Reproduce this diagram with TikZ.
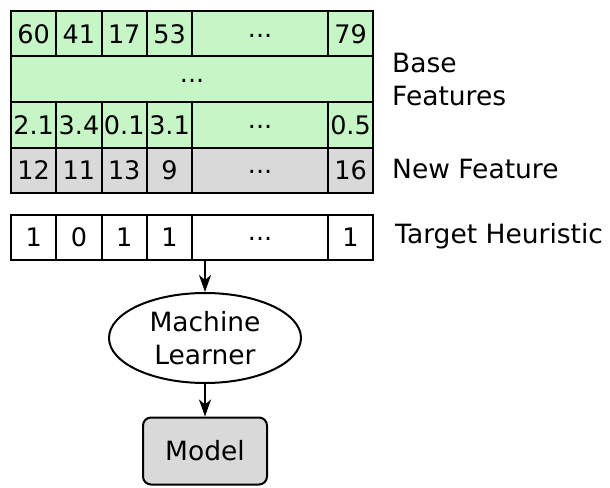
\documentclass[tikz,border=0pt]{standalone}
\usepackage{fontspec}
\setmainfont{DejaVu Sans}
\usetikzlibrary{arrows.meta,shapes.geometric}
\definecolor{featgreen}{HTML}{C6F5C6}
\definecolor{newgray}{HTML}{D9D9D9}
\newcommand{\celldots}{\raisebox{0.22em}{...}}

\begin{document}
\begin{tikzpicture}[x=1pt,y=-1pt,
    every node/.style={font=\fontsize{26.5}{33}\selectfont,inner sep=0pt},
    cell/.style={draw,line width=2pt,minimum width=45.3pt,minimum height=45.5pt,anchor=north west,
        font=\fontsize{25.5}{30}\selectfont,text height=18.6pt,text depth=0pt},
    widecell/.style={cell,minimum width=135.7pt},
    label/.style={anchor=base west,align=left},
    flow/.style={line width=2pt,-{Stealth[length=17pt,width=12pt,inset=5pt]}}]
    \useasboundingbox (0,0) rectangle (610,487);

    % base features
    \foreach \v [count=\i] in {60,41,17,53}
        \node[cell,fill=featgreen] (a\i) at ({10+(\i-1)*45.3},10) {\v};
    \node[widecell,fill=featgreen] (a5) at (191.2,10) {\celldots};
    \node[cell,fill=featgreen] (a6) at (326.9,10) {79};

    \node[cell,fill=featgreen,minimum width=362.2pt] (b) at (10,55.5) {\celldots};

    \foreach \v [count=\i] in {2.1,3.4,0.1,3.1}
        \node[cell,fill=featgreen] (c\i) at ({10+(\i-1)*45.3},101) {\v};
    \node[widecell,fill=featgreen] (c5) at (191.2,101) {\celldots};
    \node[cell,fill=featgreen] (c6) at (326.9,101) {0.5};

    % new feature
    \foreach \v [count=\i] in {12,11,13,9}
        \node[cell,fill=newgray] (n\i) at ({10+(\i-1)*45.3},146.5) {\v};
    \node[widecell,fill=newgray] (n5) at (191.2,146.5) {\celldots};
    \node[cell,fill=newgray] (n6) at (326.9,146.5) {16};

    % target
    \foreach \v [count=\i] in {1,0,1,1}
        \node[cell] (t\i) at ({10+(\i-1)*45.3},213.5) {\v};
    \node[widecell] (t5) at (191.2,213.5) {\celldots};
    \node[cell] (t6) at (326.9,213.5) {1};

    \node[label] (lbase) at (392,105) {Base\\Features};
    \node[label] (lnew) at (392,178) {New Feature};
    \node[label] (ltgt) at (395,243) {Target Heuristic};

    \node[draw,ellipse,line width=2pt,minimum width=192pt,minimum height=90pt,align=center] (ml) at (205,338) {Machine\\Learner};
    \node[draw,line width=2pt,rounded corners=8pt,fill=newgray,minimum width=124pt,minimum height=67pt] (model) at (205,451) {Model};

    \draw[flow] (t5.south -| ml.north) -- (ml.north);
    \draw[flow] (ml.south) -- (model.north);
\end{tikzpicture}
\end{document}
